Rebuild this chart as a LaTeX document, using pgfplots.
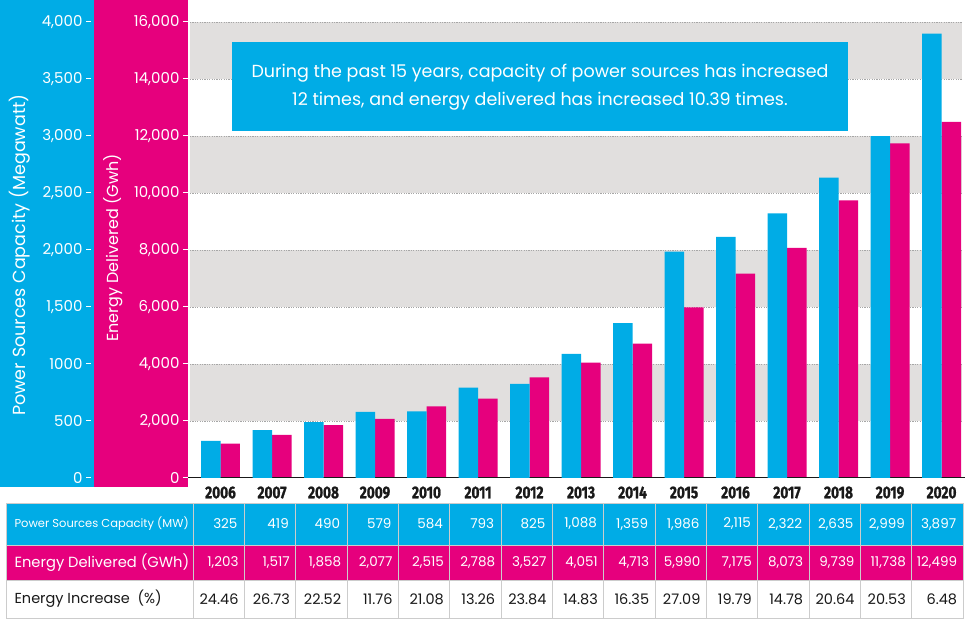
\documentclass[border=0pt]{standalone}
\usepackage{pgfplots}
\pgfplotsset{compat=1.18}
\usepackage{pgfplotstable}
\usepackage{fontspec}
\setmainfont{Poppins}
\newfontfamily\yearfont{Fira Sans}[FakeStretch=0.8, BoldFeatures={FakeStretch=0.8, FakeBold=1.2}]
\definecolor{cblue}{RGB}{0,172,230}
\definecolor{cmag}{RGB}{230,0,125}
\definecolor{band}{RGB}{225,223,222}
\definecolor{ink}{RGB}{25,25,25}
\pgfplotstableread{
yr cap en
0 325 1203
1 419 1517
2 490 1858
3 579 2077
4 584 2515
5 793 2788
6 825 3527
7 1088 4051
8 1359 4713
9 1986 5990
10 2115 7175
11 2322 8073
12 2635 9739
13 2999 11738
14 3897 12499
}\data
\begin{document}
\begin{tikzpicture}
\begin{scope}[x=1pt,y=1pt]
\useasboundingbox (0,0) rectangle (972,628);
\fill[cblue] (0,141) rectangle (94,628);
\fill[cmag] (94,141) rectangle (188,628);
\end{scope}
% energy axis
\begin{axis}[
  at={(188pt,150pt)}, anchor=south west,
  scale only axis, width=777pt, height=456pt,
  xmin=-0.631, xmax=14.456, ymin=0, ymax=16000,
  axis line style={draw=none},
  ytick={0,2000,4000,6000,8000,10000,12000,14000,16000},
  scaled y ticks=false,
  ytick pos=left, tick align=outside,
  major tick length=5pt,
  tick style={draw=white, line width=1pt},
  major tick style={draw=white, line width=1pt},
  yticklabel style={white, font=\fontsize{15}{15}\selectfont},
  /pgf/number format/1000 sep={,},
  /pgf/number format/assume math mode=true,
  xtick={0,...,14},
  xticklabels={2006,2007,2008,2009,2010,2011,2012,2013,2014,2015,2016,2017,2018,2019,2020},
  xtick style={draw=none},
  xticklabel style={ink, font={\yearfont\bfseries\fontsize{17}{17}\selectfont}},
]
\fill[band] (axis cs:-0.592,2000) rectangle (axis cs:14.40,4000);
\fill[band] (axis cs:-0.592,6000) rectangle (axis cs:14.40,8000);
\fill[band] (axis cs:-0.592,10000) rectangle (axis cs:14.40,12000);
\fill[band] (axis cs:-0.592,14000) rectangle (axis cs:14.40,16000);
\pgfplotsinvokeforeach{2000,4000,6000,8000,10000,12000,14000,16000}{
  \draw[gray!70, line width=0.9pt, dash pattern=on 1.2pt off 1.2pt] (axis cs:-0.592,#1) -- (axis cs:14.40,#1);
}
\addplot[ybar, bar width=19.5pt, bar shift=9.75pt, fill=cmag, draw=none] table[x=yr,y=en]{\data};
\draw[ink, line width=1.3pt] (axis cs:-0.631,0) -- (axis cs:14.456,0);
\end{axis}
% capacity axis
\begin{axis}[
  at={(91pt,150pt)}, anchor=south west,
  scale only axis, width=874pt, height=456pt,
  xmin=-2.515, xmax=14.456, ymin=0, ymax=4000,
  axis line style={draw=none}, xtick=\empty,
  ytick={0,500,1000,1500,2000,2500,3000,3500,4000},
  yticklabels={0,500,1000,{1,500},{2,000},{2,500},{3,000},{3,500},{4,000}},
  ytick pos=left, tick align=outside, major tick length=5pt,
  tick style={draw=white, line width=1pt},
  major tick style={draw=white, line width=1pt},
  yticklabel style={white, font=\fontsize{15}{15}\selectfont},
]
\addplot[ybar, bar width=19.5pt, bar shift=-9.75pt, fill=cblue, draw=none] table[x=yr,y=cap]{\data};
\end{axis}
\begin{scope}[x=1pt,y=1pt]
% axis titles
\node[rotate=90, white, font=\fontsize{17.5}{18}\selectfont] at (20,373) {Power Sources Capacity (Megawatt)};
\node[rotate=90, white, font=\fontsize{16}{16}\selectfont] at (113,380) {Energy Delivered (Gwh)};
% annotation
\fill[cblue] (232,497) rectangle (848,586);
\node[white, font=\fontsize{17.5}{18}\selectfont] at (540,555) {During the past 15 years, capacity of power sources has increased};
\node[white, font=\fontsize{17.5}{18}\selectfont] at (540,527) {12 times, and energy delivered has increased 10.39 times.};
% table
\fill[cblue] (6,83) rectangle (963,125);
\fill[cmag] (6,48) rectangle (963,83);
\fill[white] (6,10) rectangle (963,48);
\draw[gray!40, line width=0.8pt] (6,10) rectangle (963,125);
\draw[gray!40, line width=0.8pt] (6,83) -- (963,83) (6,48) -- (963,48);
\foreach \i in {0,...,14} { \draw[gray!40, line width=0.8pt] (193+51.333*\i,10) -- (193+51.333*\i,125); }
\node[anchor=west, white, font=\fontsize{11.5}{12}\selectfont] at (11,104) {Power Sources Capacity (MW)};
\node[anchor=west, white, font=\fontsize{14.7}{15}\selectfont] at (11,65.5) {Energy Delivered (GWh)};
\node[anchor=west, ink, font=\fontsize{14.5}{15}\selectfont] at (11,29) {Energy Increase\ \ (\%)};
\foreach \v [count=\i from 0] in {325,419,490,579,584,793,825,{1,088},{1,359},{1,986},{2,115},{2,322},{2,635},{2,999},{3,897}}
  { \node[anchor=east, white, font=\fontsize{13.5}{14}\selectfont] at (193+51.333*\i+48,104) {\v}; }
\foreach \v [count=\i from 0] in {{1,203},{1,517},{1,858},{2,077},{2,515},{2,788},{3,527},{4,051},{4,713},{5,990},{7,175},{8,073},{9,739},{11,738},{12,499}}
  { \node[anchor=east, white, font=\fontsize{13.5}{14}\selectfont] at (193+51.333*\i+49,65.5) {\v}; }
\foreach \v [count=\i from 0] in {24.46,26.73,22.52,11.76,21.08,13.26,23.84,14.83,16.35,27.09,19.79,14.78,20.64,20.53,6.48}
  { \node[anchor=east, ink, font=\fontsize{14.5}{15}\selectfont] at (193+51.333*\i+49,29) {\v}; }
\end{scope}
\end{tikzpicture}
\end{document}
